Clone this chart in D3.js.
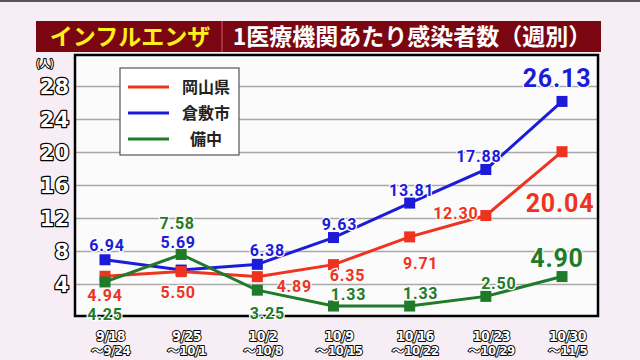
<!DOCTYPE html>
<html>
	<head>
		<meta charset="utf-8">
		<title>インフルエンザ 1医療機関あたり感染者数</title>
		<script src="https://d3js.org/d3.v7.min.js"></script>
		<style>
			body { margin: 0; background: #f6eef4; }
			#plot { width: 640px; height: 360px; }
			.outline { fill: white; stroke: black; stroke-width: 2.5px; paint-order: stroke; stroke-linejoin: round; }
		</style>
	</head>
	<body>
		<div id='plot'></div>
		<script>
			// data
			var weeks = ['9/18', '9/25', '10/2', '10/9', '10/16', '10/23', '10/30']
			var weekEnds = ['～9/24', '～10/1', '～10/8', '～10/15', '～10/22', '～10/29', '～11/5']
			var okayama = [4.94, 5.50, 4.89, 6.35, 9.71, 12.30, 20.04]
			var kurashiki = [6.94, 5.69, 6.38, 9.63, 13.81, 17.88, 26.13]
			var bicchu = [4.25, 7.58, 3.25, 1.33, 1.33, 2.50, 4.90]
			var yTicks = [4, 8, 12, 16, 20, 24, 28]
			var seriesNames = ['岡山県', '倉敷市', '備中']

			// label nudges (dx, dy) from each marker
			var offOkayama = [[0,19],[-3,21],[37,10],[14,11],[11,26],[-30,-2],[-2,51]]
			var offKurashiki = [[2,-15],[-3,-28],[10,-14],[6,-13],[2,-13],[-7,-13],[-5,-23]]
			var offBicchu = [[0,32],[-4,-31],[10,23],[15,-11.5],[11,-13],[13,-13],[-5,-19]]

			var frame = {left:75, top:55, right:598, bottom:316}
			var width = frame.right - frame.left

			var svg = d3.select('#plot').append('svg')
							.attr('width', 640)
							.attr('height', 360)

			svg.append('rect').attr('x',0).attr('y',0).attr('width',640).attr('height',2).attr('fill','#555')

			// title banner
			svg.append('rect')
					.attr('x', 36).attr('y', 21).attr('width', 565).attr('height', 31)
					.attr('fill', '#7a0612')
			svg.append('line')
					.attr('x1', 222).attr('x2', 222).attr('y1', 21).attr('y2', 52)
					.attr('stroke', '#a8303a').attr('stroke-width', 2)
			svg.append('text')
					.attr('x', 130).attr('y', 45)
					.attr('text-anchor', 'middle')
					.style('font-family', '"Noto Sans CJK JP"')
					.style('font-weight', 'bold')
					.style('font-size', '23px')
					.attr('fill', '#fff01a')
					.text('インフルエンザ')
			svg.append('text')
					.attr('x', 412).attr('y', 45)
					.attr('text-anchor', 'middle')
					.style('font-family', '"Noto Sans CJK JP"')
					.style('font-weight', 'bold')
					.style('font-size', '23px')
					.attr('fill', 'white')
					.text('1医療機関あたり感染者数（週別）')

			// plot frame
			svg.append('rect')
					.attr('x', frame.left).attr('y', frame.top)
					.attr('width', width).attr('height', frame.bottom - frame.top)
					.attr('fill', '#fbfbfb')

			var xScale = d3.scalePoint()
							.domain(weeks)
							.range([105, 562])
			var yScale = d3.scaleLinear()
							.domain([0, 28])
							.range([317, 86])

			// grid
			var grid = svg.append('g')
					.attr('transform', 'translate(' + frame.left + ',0)')
					.call(d3.axisRight(yScale).tickValues(yTicks).tickSize(width).tickFormat(''))
			grid.select('.domain').remove()
			grid.selectAll('line').attr('stroke', '#a8a8a8').attr('stroke-width', 1.5)

			svg.append('rect')
					.attr('x', frame.left).attr('y', frame.top)
					.attr('width', width).attr('height', frame.bottom - frame.top)
					.attr('fill', 'none')
					.attr('stroke', 'black')
					.attr('stroke-width', 2.5)

			// y axis labels
			var yAxis = svg.append('g')
					.attr('transform', 'translate(69,0)')
					.call(d3.axisLeft(yScale).tickValues(yTicks).tickSize(0).tickPadding(0))
			yAxis.select('.domain').remove()
			yAxis.selectAll('text')
					.attr('class', 'outline')
					.attr('dy', '0.36em')
					.style('font-family', '"DejaVu Sans"')
					.style('font-weight', 'bold')
					.style('font-size', '21px')
			svg.append('text')
					.attr('class', 'outline')
					.attr('x', 45).attr('y', 67)
					.attr('text-anchor', 'middle')
					.style('font-family', '"Noto Sans CJK JP"')
					.style('font-weight', 'bold')
					.style('font-size', '10px')
					.style('stroke-width', '2px')
					.text('(人)')

			// x axis labels, two lines each
			var xAxis = svg.append('g')
					.attr('transform', 'translate(5,323)')
					.call(d3.axisBottom(xScale).tickSize(0).tickPadding(0))
			xAxis.select('.domain').remove()
			xAxis.selectAll('.tick text').remove()
			xAxis.selectAll('.tick').each(function(d, i) {
				var tick = d3.select(this)
				tick.append('text')
						.attr('class', 'outline')
						.attr('y', 18)
						.attr('text-anchor', 'middle')
						.style('stroke-width', '1.8px')
						.style('font-family', '"DejaVu Sans Condensed"')
						.style('font-weight', 'bold')
						.style('font-size', '14px')
						.style('letter-spacing', '-0.5px')
						.text(d)
				tick.append('text')
						.attr('class', 'outline')
						.attr('y', 32)
						.attr('text-anchor', 'middle')
						.style('stroke-width', '1.8px')
						.style('font-family', '"DejaVu Sans Condensed", "Noto Sans CJK JP"')
						.style('font-weight', 'bold')
						.style('font-size', '13px')
						.style('letter-spacing', '-0.5px')
						.text(weekEnds[i])
			})

			var series = [
				{name: seriesNames[1], values: kurashiki, color: '#1c1cd8', off: offKurashiki},
				{name: seriesNames[0], values: okayama, color: '#ee3420', off: offOkayama},
				{name: seriesNames[2], values: bicchu, color: '#1f7a2a', off: offBicchu}
			]

			var line = d3.line()
						.x(function(d, i){ return xScale(weeks[i]) })
						.y(function(d){ return yScale(d) })

			series.forEach(function(s) {
				svg.append('path')
						.datum(s.values)
						.attr('d', line)
						.attr('fill', 'none')
						.attr('stroke', s.color)
						.attr('stroke-width', 3)
				svg.selectAll('.m' + s.name)
						.data(s.values)
						.enter()
						.append('rect')
							.attr('x', function(d, i){ return xScale(weeks[i]) - 5.5 })
							.attr('y', function(d){ return yScale(d) - 5.5 })
							.attr('width', 11)
							.attr('height', 11)
							.attr('fill', s.color)
			})

			series.forEach(function(s) {
				svg.selectAll('.l' + s.name)
						.data(s.values)
						.enter()
						.append('text')
							.attr('x', function(d, i){ return xScale(weeks[i]) + s.off[i][0] })
							.attr('y', function(d, i){ return yScale(d) + s.off[i][1] })
							.attr('dy', '0.36em')
							.attr('text-anchor', 'middle')
							.attr('fill', s.color)
							.style('font-family', 'Roboto, "Liberation Sans"')
							.style('font-weight', 'bold')
							.style('font-size', function(d, i){ return i == 6 ? '25px' : '16px' })
							.style('letter-spacing', '0.8px')
							.style('stroke', '#fbfbfb')
							.style('stroke-width', '2.5px')
							.style('paint-order', 'stroke')
							.text(function(d){ return d.toFixed(2) })
			})

			// legend
			var legend = svg.append('g')
			legend.append('rect')
					.attr('x', 120).attr('y', 68).attr('width', 119).attr('height', 87)
					.attr('fill', 'white')
					.attr('stroke', '#555')
					.attr('stroke-width', 1.2)
			var legendColors = ['#ee3420', '#1c1cd8', '#1f7a2a']
			var legendY = d3.scalePoint().domain(seriesNames).range([87, 139])
			seriesNames.forEach(function(n, i) {
				legend.append('line')
						.attr('x1', 128).attr('x2', 169)
						.attr('y1', legendY(n)).attr('y2', legendY(n))
						.attr('stroke', legendColors[i])
						.attr('stroke-width', 3)
				legend.append('text')
						.attr('x', 206).attr('y', legendY(n))
						.attr('dy', '0.36em')
						.attr('text-anchor', 'middle')
						.attr('fill', '#222')
						.style('font-family', '"Noto Sans CJK JP"')
						.style('font-weight', 'bold')
						.style('font-size', '16px')
						.text(n)
			})
		</script>
	</body>
</html>
